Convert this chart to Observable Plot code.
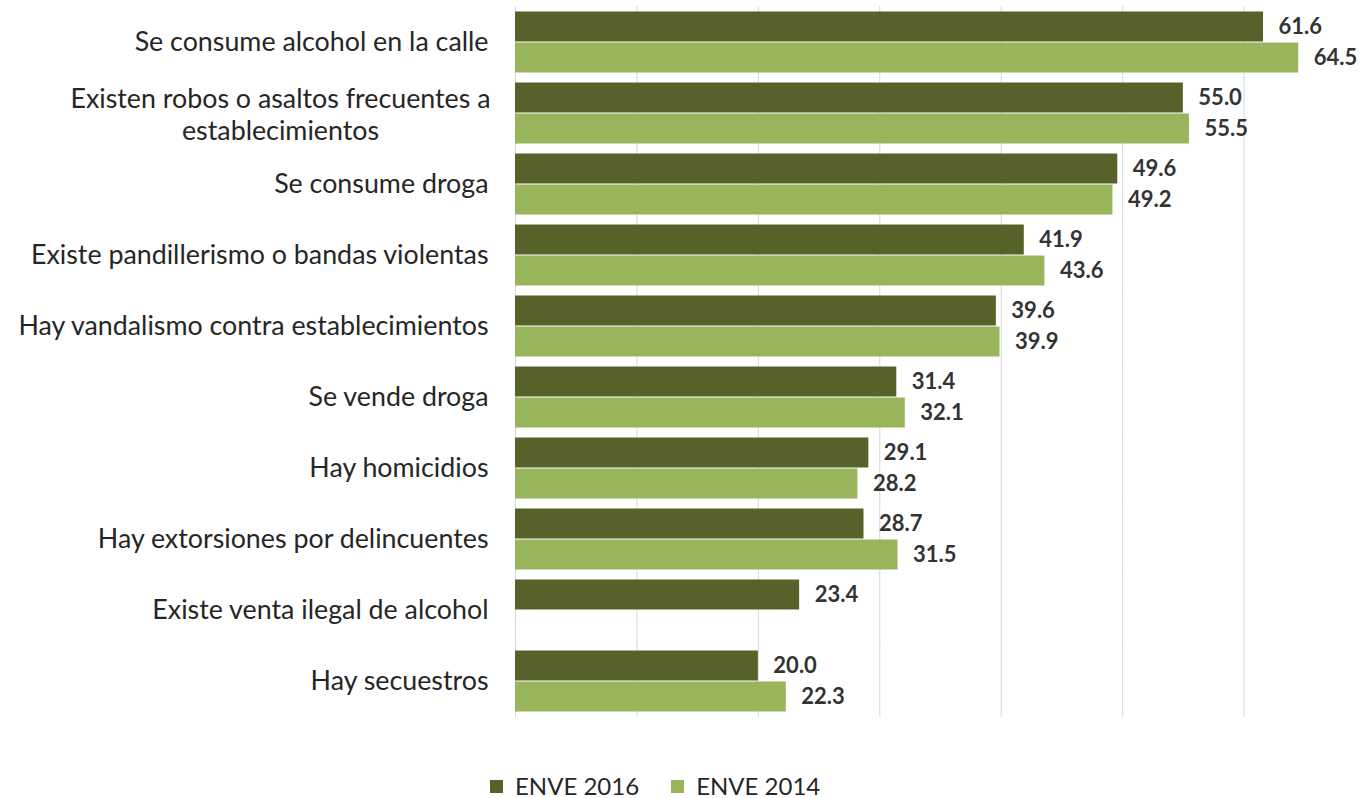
<!DOCTYPE html>
<html>
<head>
<meta charset="utf-8">
<script src="https://cdn.jsdelivr.net/npm/d3@7"></script>
<script src="https://cdn.jsdelivr.net/npm/@observablehq/plot@0.6"></script>
<style>
  body { margin: 0; background: #fff; font-family: Lato, "Noto Sans", sans-serif; overflow: hidden; }
  #wrap { position: relative; width: 1361px; height: 798px; }
  #legend { position: absolute; left: 490px; top: 775px; display: flex; align-items: center; font-size: 24px; line-height: 22px; height: 22px; color: #262626; }
  #legend .item { display: flex; align-items: center; margin-right: 32px; white-space: nowrap; }
  #legend .sw { width: 13px; height: 13px; margin-right: 12px; flex: none; }
</style>
</head>
<body>
<div id="wrap">
  <div id="chart"></div>
  <div id="legend"></div>
</div>
<script>
const categories = [
  "Se consume alcohol en la calle",
  "Existen robos o asaltos frecuentes a establecimientos",
  "Se consume droga",
  "Existe pandillerismo o bandas violentas",
  "Hay vandalismo contra establecimientos",
  "Se vende droga",
  "Hay homicidios",
  "Hay extorsiones por delincuentes",
  "Existe venta ilegal de alcohol",
  "Hay secuestros"
];
const labelLines = [
  ["Se consume alcohol en la calle"],
  ["Existen robos o asaltos frecuentes a", "establecimientos"],
  ["Se consume droga"],
  ["Existe pandillerismo o bandas violentas"],
  ["Hay vandalismo contra establecimientos"],
  ["Se vende droga"],
  ["Hay homicidios"],
  ["Hay extorsiones por delincuentes"],
  ["Existe venta ilegal de alcohol"],
  ["Hay secuestros"]
];
const series = ["ENVE 2016", "ENVE 2014"];
const values2016 = [61.6, 55.0, 49.6, 41.9, 39.6, 31.4, 29.1, 28.7, 23.4, 20.0];
const values2014 = [64.5, 55.5, 49.2, 43.6, 39.9, 32.1, 28.2, 31.5, null, 22.3];
const colors = ["#566229", "#98B55B"];
const xTicks = [0, 10, 20, 30, 40, 50, 60, 70];

const data = categories.flatMap((c, i) => [
  {cat: c, series: series[0], value: values2016[i]},
  {cat: c, series: series[1], value: values2014[i]}
]).filter(d => d.value != null);

const catLabels = categories.map((c, i) => ({cat: c, text: labelLines[i].join("\n"), multi: labelLines[i].length > 1}));

const chart = Plot.plot({
  width: 1361,
  height: 730,
  marginTop: 5,
  marginBottom: 12,
  marginLeft: 515,
  marginRight: 0,
  style: {fontFamily: "Lato, 'Noto Sans', sans-serif", background: "#fff"},
  x: {domain: [0, 70], range: [515, 1365], axis: null},
  y: {domain: series, padding: 0, axis: null},
  fy: {domain: categories, paddingInner: 0.13, paddingOuter: 0.07, axis: null, label: null},
  color: {domain: series, range: colors},
  marks: [
    Plot.ruleX(xTicks, {x: d => d, stroke: "#d9d9d9", strokeWidth: 1, insetTop: -5, insetBottom: -5}),
    Plot.barX(data, {fy: "cat", y: "series", x: "value", fill: "series", insetTop: 0.5, insetBottom: 0.5}),
    Plot.text(data, {fy: "cat", y: "series", x: "value", text: d => d.value.toFixed(1), textAnchor: "start", dx: 15, fontWeight: "bold", fontSize: 22, fill: "#333333"}),
    Plot.text(catLabels.filter(d => !d.multi), {fy: "cat", text: "text", frameAnchor: "left", dx: -27, textAnchor: "end", fontSize: 26.8, fill: "#262626"}),
    Plot.text(catLabels.filter(d => d.multi), {fy: "cat", text: "text", frameAnchor: "left", dx: -235, textAnchor: "middle", fontSize: 26.8, lineHeight: 1.19, fill: "#262626"})
  ]
});
document.getElementById("chart").appendChild(chart);

const legend = document.getElementById("legend");
series.forEach((s, i) => {
  const item = document.createElement("div");
  item.className = "item";
  const sw = document.createElement("span");
  sw.className = "sw";
  sw.style.background = colors[i];
  const t = document.createElement("span");
  t.textContent = s;
  item.appendChild(sw);
  item.appendChild(t);
  legend.appendChild(item);
});
</script>
</body>
</html>
